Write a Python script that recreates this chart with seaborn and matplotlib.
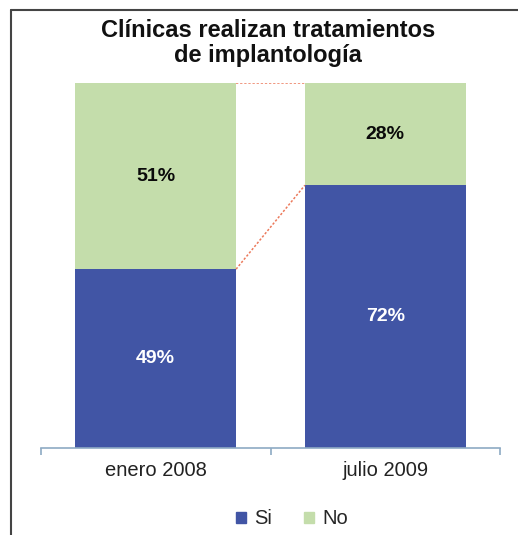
import pandas as pd
import matplotlib.pyplot as plt
import seaborn as sns
from matplotlib.lines import Line2D
from matplotlib.patches import Patch

# chart data
periods = ['enero 2008', 'julio 2009']
si_share = [0.49, 0.72]
no_share = [0.51, 0.28]
si_labels = ['49%', '72%']
no_labels = ['51%', '28%']

blue = '#4155a5'
green = '#c4ddab'
axis_col = '#8eaac4'

sns.set_theme(style='white')
plt.rcParams['font.family'] = ['Liberation Sans', 'DejaVu Sans']

df = pd.DataFrame({'Periodo': periods, 'Si': si_share, 'No': no_share})
df['Total'] = df['Si'] + df['No']

fig = plt.figure(figsize=(5.18, 5.35), dpi=100)
ax = fig.add_axes([41 / 518, 87 / 535, 459 / 518, 365 / 535])

# stacked bars: full height in green, then the Si part in blue on top of it
sns.barplot(data=df, x='Periodo', y='Total', color=green, width=0.7,
            linewidth=0, saturation=1, ax=ax)
sns.barplot(data=df, x='Periodo', y='Si', color=blue, width=0.7,
            linewidth=0, saturation=1, ax=ax)

# series lines between the bars
ax.plot([0.35, 0.65], [si_share[0], si_share[1]], color='#ec7a5c',
        lw=1.1, ls=(0, (1.5, 1.2)))
ax.plot([0.35, 0.65], [1.0, 1.0], color='#ec7a5c', lw=1.1, ls=(0, (1.5, 1.2)))

for i in range(len(periods)):
    ax.text(i, si_share[i] / 2, si_labels[i], ha='center', va='center',
            color='white', fontsize=14, fontweight='bold')
    ax.text(i, si_share[i] + no_share[i] / 2, no_labels[i], ha='center',
            va='center', color='#0a0a0a', fontsize=14, fontweight='bold')

ax.set_xlim(-0.5, 1.5)
ax.set_ylim(0, 1)
ax.set_xlabel('')
ax.set_ylabel('')
ax.set_yticks([])
for side in ['top', 'right', 'left']:
    ax.spines[side].set_visible(False)
ax.spines['bottom'].set_color(axis_col)
ax.spines['bottom'].set_linewidth(1.2)
ax.set_xticks([-0.5, 0.5, 1.5], minor=True)
ax.tick_params(axis='x', which='minor', direction='out', length=5,
               width=1.2, color=axis_col, bottom=True)
ax.tick_params(axis='x', which='major', length=0, pad=9,
               labelsize=14.5, labelcolor='#222222')

fig.text(268 / 518, 1 - 43 / 535,
         'Clínicas realizan tratamientos\nde implantología',
         ha='center', va='center', fontsize=17, fontweight='bold',
         color='#111111', linespacing=1.1)

handles = [Patch(color=blue, label='Si'), Patch(color=green, label='No')]
fig.legend(handles=handles, loc='center', bbox_to_anchor=(292 / 518, 16 / 535),
           ncol=2, frameon=False, fontsize=14.5, handlelength=0.5,
           handleheight=0.5, handletextpad=0.4, columnspacing=1.6)

# outer frame (top and left edges visible)
fig.add_artist(Line2D([11 / 518, 1], [1 - 10 / 535, 1 - 10 / 535],
                      transform=fig.transFigure, color='#444444', lw=1.5))
fig.add_artist(Line2D([11 / 518, 11 / 518], [0, 1 - 10 / 535],
                      transform=fig.transFigure, color='#444444', lw=1.5))

fig.savefig('out.png', dpi=100)
